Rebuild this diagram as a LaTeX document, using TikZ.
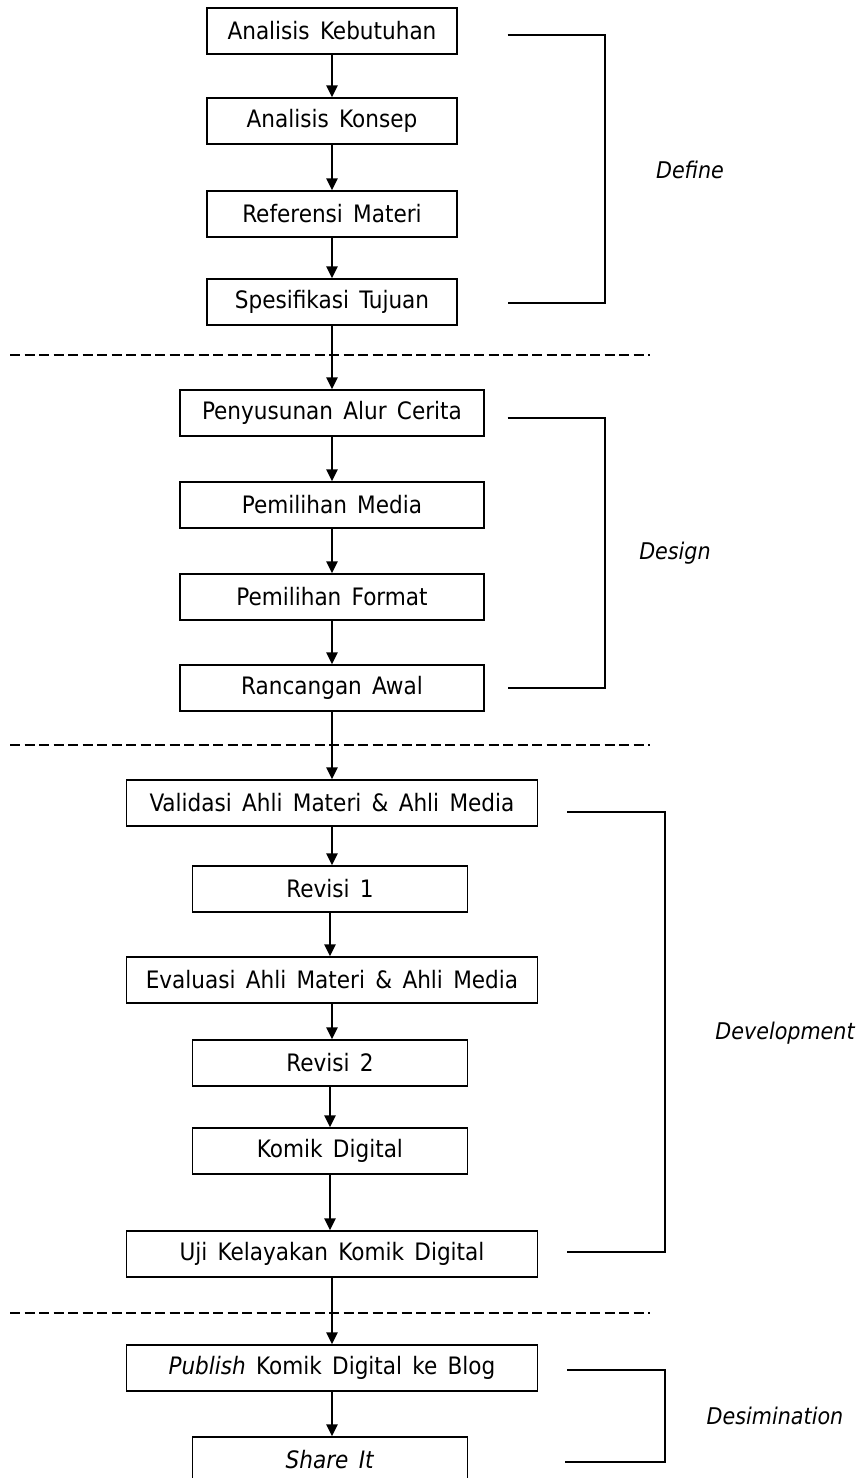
\documentclass[tikz,border=0pt]{standalone}
\usepackage{fontspec}
\setmainfont{DejaVu Sans Condensed}[WordSpace=1.5]
\usetikzlibrary{positioning, calc, arrows.meta}

\begin{document}
\begin{tikzpicture}[x=1pt, y=-1pt, font=\fontsize{24}{28}\selectfont,
		box/.style={draw, line width=1.2pt, minimum height=46pt, inner sep=0pt},
		flow/.style={-{Triangle[length=12pt, width=11pt]}, line width=2.4pt},
		sep/.style={line width=2.8pt, dash pattern=on 10pt off 4.5pt},
		brace/.style={line width=1.1pt},
		phase/.style={font=\fontsize{23}{28}\selectfont\itshape}]
			\useasboundingbox (0,0) rectangle (864,1478);
			% define
			\node (n1) [box, minimum width=250pt] at (332,31) {Analisis Kebutuhan};
			\node (n2) [box, minimum width=250pt] at (332,121) {Analisis Konsep};
			\node (n3) [box, minimum width=250pt] at (332,214) {Referensi Materi};
			\node (n4) [box, minimum width=250pt] at (332,302) {Spesifikasi Tujuan};
			% design
			\node (n5) [box, minimum width=304pt] at (332,413) {Penyusunan Alur Cerita};
			\node (n6) [box, minimum width=304pt] at (332,505) {Pemilihan Media};
			\node (n7) [box, minimum width=304pt] at (332,597) {Pemilihan Format};
			\node (n8) [box, minimum width=304pt] at (332,688) {Rancangan Awal};
			% development
			\node (n9) [box, minimum width=411pt] at (332,803) {Validasi Ahli Materi \& Ahli Media};
			\node (n10) [box, minimum width=275pt] at (330,889) {Revisi 1};
			\node (n11) [box, minimum width=411pt] at (332,980) {Evaluasi Ahli Materi \& Ahli Media};
			\node (n12) [box, minimum width=275pt] at (330,1063) {Revisi 2};
			\node (n13) [box, minimum width=275pt] at (330,1151) {Komik Digital};
			\node (n14) [box, minimum width=411pt] at (332,1254) {Uji Kelayakan Komik Digital};
			% desimination
			\node (n15) [box, minimum width=411pt] at (332,1368) {\textit{Publish} Komik Digital ke Blog};
			\node (n16) [box, minimum width=275pt] at (330,1460) {\textit{Share It}};

			\foreach \a/\b in {n1/n2, n2/n3, n3/n4, n4/n5, n5/n6, n6/n7, n7/n8, n8/n9, n9/n10, n10/n11, n11/n12, n12/n13, n13/n14, n14/n15, n15/n16}
				\draw [flow] (\a.south) -- (\a.south |- \b.north);

			\coordinate (s1l) at (10,355);
			\coordinate (s1r) at (650,355);
			\coordinate (s2l) at (10,745);
			\coordinate (s2r) at (650,745);
			\coordinate (s3l) at (10,1313);
			\coordinate (s3r) at (650,1313);
			\draw [sep] (s1l) -- (s1r);
			\draw [sep] (s2l) -- (s2r);
			\draw [sep] (s3l) -- (s3r);

			\node (lDefine) [phase] at (690,170) {Define};
			\node (lDesign) [phase] at (675,553) {Design};
			\node (lDevelopment) [phase] at (785,1033) {Development};
			\node (lDesimination) [phase] at (775,1416) {Desimination};

			\draw [brace] ($(n1.east)+(50,4)$) -- (605,35) |- ($(n4.east)+(50,1)$);
			\draw [brace] ($(n5.east)+(23,5)$) -- (605,418) |- ($(n8.east)+(23,0)$);
			\draw [brace] ($(n9.east)+(29,9)$) -- (665,812) |- ($(n14.east)+(29,-2)$);
			\draw [brace] ($(n15.east)+(29,2)$) -- (665,1370) |- ($(n16.east)+(97,2)$);
		\end{tikzpicture}
\end{document}
